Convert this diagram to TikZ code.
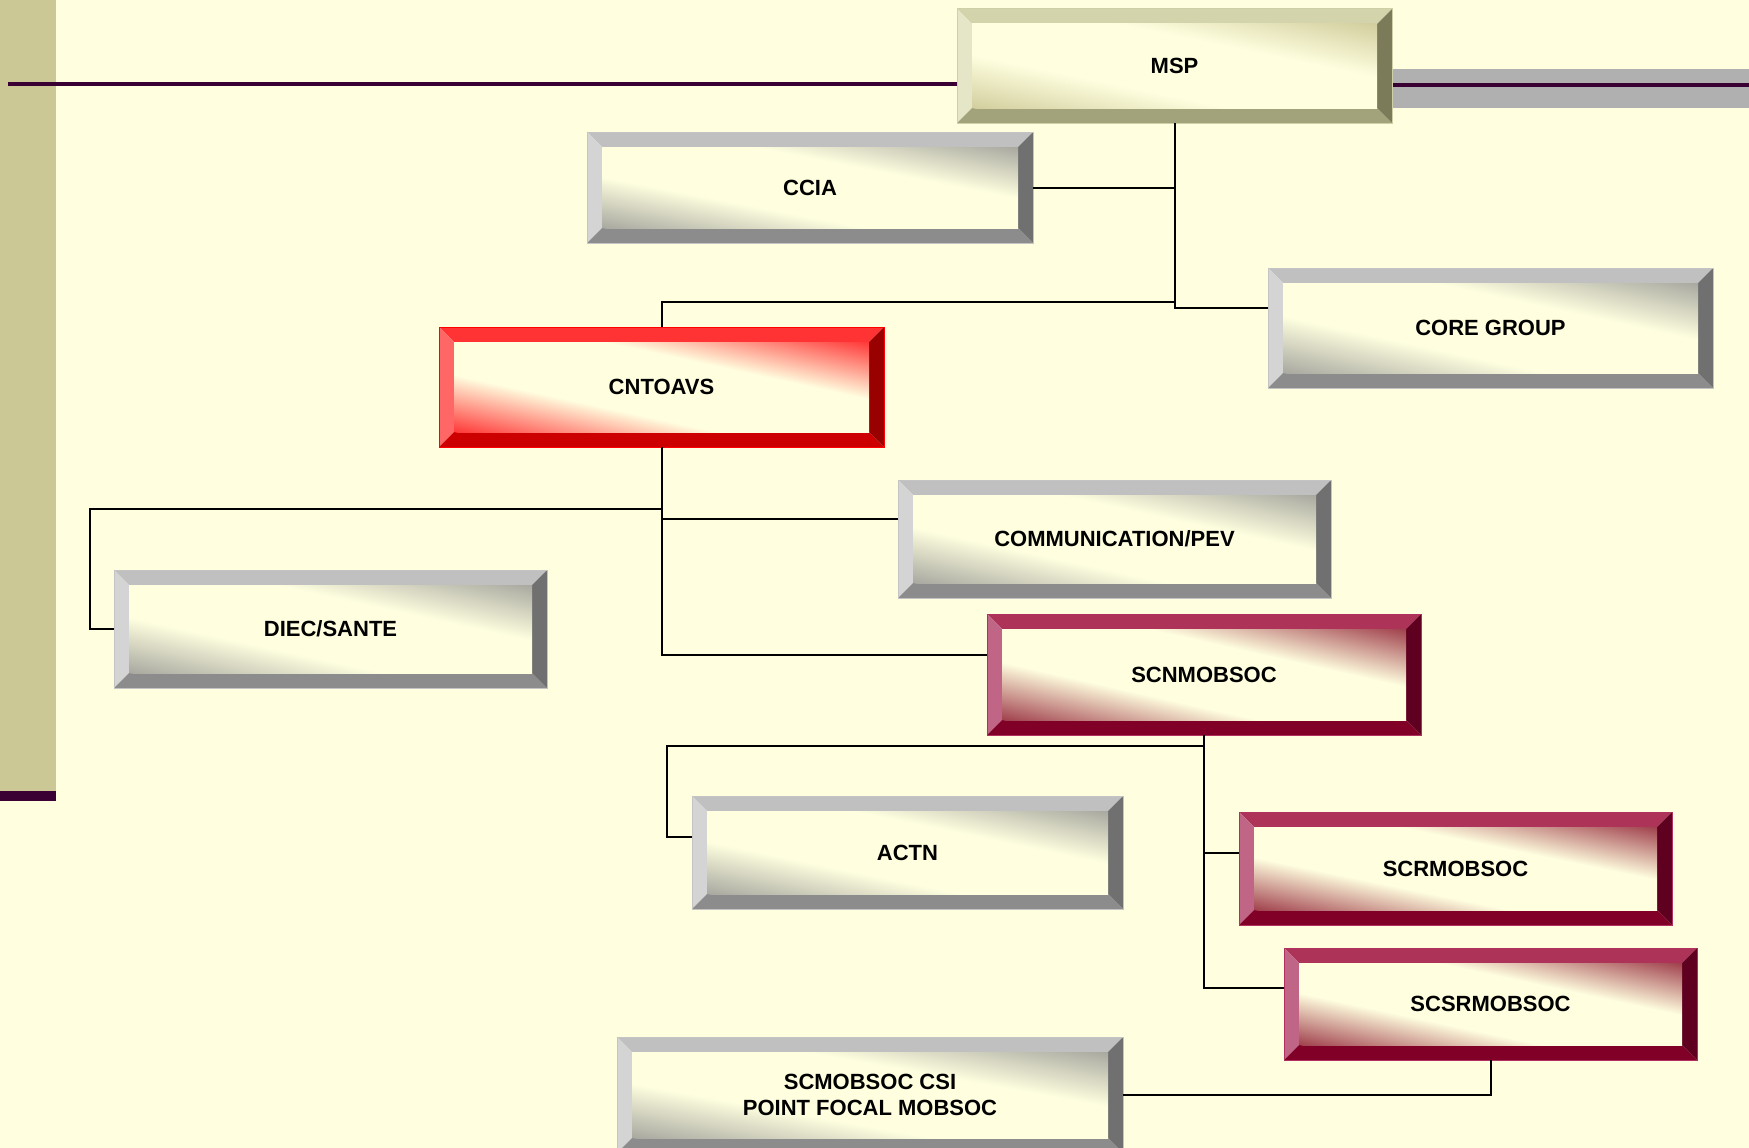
\documentclass[tikz,border=0pt]{standalone}
\usepackage{fontspec}
\setmainfont{Liberation Sans}
\usetikzlibrary{calc}
\definecolor{bg}{HTML}{FFFFE0}
\definecolor{cream}{HTML}{FFFFE0}
\definecolor{khaki}{HTML}{CCC896}
\definecolor{plum}{HTML}{3A0033}
\definecolor{band}{HTML}{B0B0B0}
% gray palette
\definecolor{gT}{HTML}{C0C0C0}\definecolor{gL}{HTML}{D4D4D4}\definecolor{gB}{HTML}{8C8C8C}\definecolor{gR}{HTML}{707070}\definecolor{gF}{HTML}{A8A8A0}\definecolor{gO}{HTML}{C4C4C4}
% msp palette
\definecolor{mT}{HTML}{D4D4AC}\definecolor{mL}{HTML}{E5E5C8}\definecolor{mB}{HTML}{A3A37B}\definecolor{mR}{HTML}{7B7B5A}\definecolor{mF}{HTML}{D2CE9E}\definecolor{mO}{HTML}{D0D0A8}
% red palette
\definecolor{rT}{HTML}{FF3333}\definecolor{rL}{HTML}{FF6666}\definecolor{rB}{HTML}{CC0000}\definecolor{rR}{HTML}{990000}\definecolor{rF}{HTML}{FF3838}\definecolor{rO}{HTML}{FF0000}
% maroon palette
\definecolor{aT}{HTML}{AD3358}\definecolor{aL}{HTML}{C06585}\definecolor{aB}{HTML}{800028}\definecolor{aR}{HTML}{600020}\definecolor{aF}{HTML}{A0404C}\definecolor{aO}{HTML}{B03060}
\pgfdeclarehorizontalshading{faceg}{100bp}{color(0bp)=(gF); color(25bp)=(gF); color(41bp)=(cream); color(59bp)=(cream); color(75bp)=(gF); color(100bp)=(gF)}
\pgfdeclarehorizontalshading{facem}{100bp}{color(0bp)=(mF); color(25bp)=(mF); color(41bp)=(cream); color(59bp)=(cream); color(75bp)=(mF); color(100bp)=(mF)}
\pgfdeclarehorizontalshading{facer}{100bp}{color(0bp)=(rF); color(25bp)=(rF); color(41bp)=(cream); color(59bp)=(cream); color(75bp)=(rF); color(100bp)=(rF)}
\pgfdeclarehorizontalshading{facea}{100bp}{color(0bp)=(aF); color(25bp)=(aF); color(41bp)=(cream); color(59bp)=(cream); color(75bp)=(aF); color(100bp)=(aF)}
\tikzset{
  boxlbl/.style={rectangle, inner sep=0pt, align=center, text=black,
    font=\bfseries\fontsize{22}{26.5}\selectfont},
  conn/.style={draw=black, line width=2pt}
}
\newcommand{\bevbox}[7]{%
  \fill[#6T] (#2,#3) -- (#4,#3) -- ({#4-15},{#3+15}) -- ({#2+15},{#3+15}) -- cycle;
  \fill[#6L] (#2,#3) -- ({#2+15},{#3+15}) -- ({#2+15},{#5-15}) -- (#2,#5) -- cycle;
  \fill[#6B] (#2,#5) -- ({#2+15},{#5-15}) -- ({#4-15},{#5-15}) -- (#4,#5) -- cycle;
  \fill[#6R] (#4,#3) -- (#4,#5) -- ({#4-15},{#5-15}) -- ({#4-15},{#3+15}) -- cycle;
  \begin{scope}
    \clip ({#2+15},{#3+15}) rectangle ({#4-15},{#5-15});
    \shade[shading=face#6, transform canvas={cm={{(#4-#2-30)/100},{(#5-#3-30)/100},{(#4-#2-30)/50},{-(#5-#3-30)/50},({(#2+#4)/2},{(#3+#5)/2})}}] (-50,-50) rectangle (50,50);
  \end{scope}
  \draw[#6O, line width=1pt] (#2,#3) rectangle (#4,#5);
  \node[boxlbl, minimum width={(#4-#2)*1pt}, minimum height={(#5-#3)*1pt}] (#1) at ({(#2+#4)/2},{(#3+#5)/2}) {#7};
}
\begin{document}
\begin{tikzpicture}[x=1pt,y=-1pt]
\useasboundingbox (0,0) rectangle (1749,1148);
\clip (0,0) rectangle (1749,1148);
\fill[bg] (0,0) rectangle (1749,1148);
% decorations
\fill[khaki] (0,0) rectangle (56,791);
\fill[plum] (0,791) rectangle (56,801);
\draw[plum, line width=3.5pt] (8,84) -- (960,84);
\fill[band] (1390,69) rectangle (1749,108);
\draw[plum, line width=3.5pt] (1390,85) -- (1749,85);
% junction coordinates
\coordinate (jcnt) at (1175,302);
\coordinate (jdiec) at (662,509);
\coordinate (kdiec) at (90,509);
\coordinate (jcomm) at (662,519);
\coordinate (jscn) at (987,655);
\coordinate (jactn) at (1204,746);
\coordinate (kactn) at (667,746);
\coordinate (jscsr) at (1204,988);
% boxes
\bevbox{msp}{957}{9}{1392}{123}{m}{MSP}
\bevbox{ccia}{587}{132}{1033}{243}{g}{CCIA}
\bevbox{core}{1268}{268}{1713}{388}{g}{CORE GROUP}
\bevbox{cnt}{439}{327}{884}{447}{r}{CNTOAVS}
\bevbox{comm}{898}{480}{1331}{598}{g}{COMMUNICATION/PEV}
\bevbox{diec}{114}{570}{547}{688}{g}{DIEC/SANTE}
\bevbox{scn}{987}{614}{1421}{735}{a}{SCNMOBSOC}
\bevbox{actn}{692}{796}{1123}{909}{g}{ACTN}
\bevbox{scr}{1239}{812}{1672}{925}{a}{SCRMOBSOC}
\bevbox{scsr}{1284}{948}{1697}{1060}{a}{SCSRMOBSOC}
\bevbox{scmob}{617}{1037}{1123}{1153}{g}{SCMOBSOC CSI\\POINT FOCAL MOBSOC}
% connectors
\draw[conn] (msp.south) |- ($(core.north west)+(0,40)$);
\draw[conn] (ccia.east) -- (ccia.east -| msp.south);
\draw[conn] (cnt.north) |- (jcnt);
\draw[conn] (cnt.south) |- (jscn);
\draw[conn] (jdiec) -- (kdiec) |- (diec.west);
\draw[conn] (jcomm) -- (jcomm -| comm.west);
\draw[conn] (scn.south) -- (jscsr) -- (jscsr -| scsr.west);
\draw[conn] (jactn) -- (kactn) |- ($(actn.north west)+(0,41)$);
\draw[conn] ($(scr.north west)+(-35,41)$) -- ($(scr.north west)+(0,41)$);
\draw[conn] (scsr.south) |- (scmob.east);
\end{tikzpicture}
\end{document}
